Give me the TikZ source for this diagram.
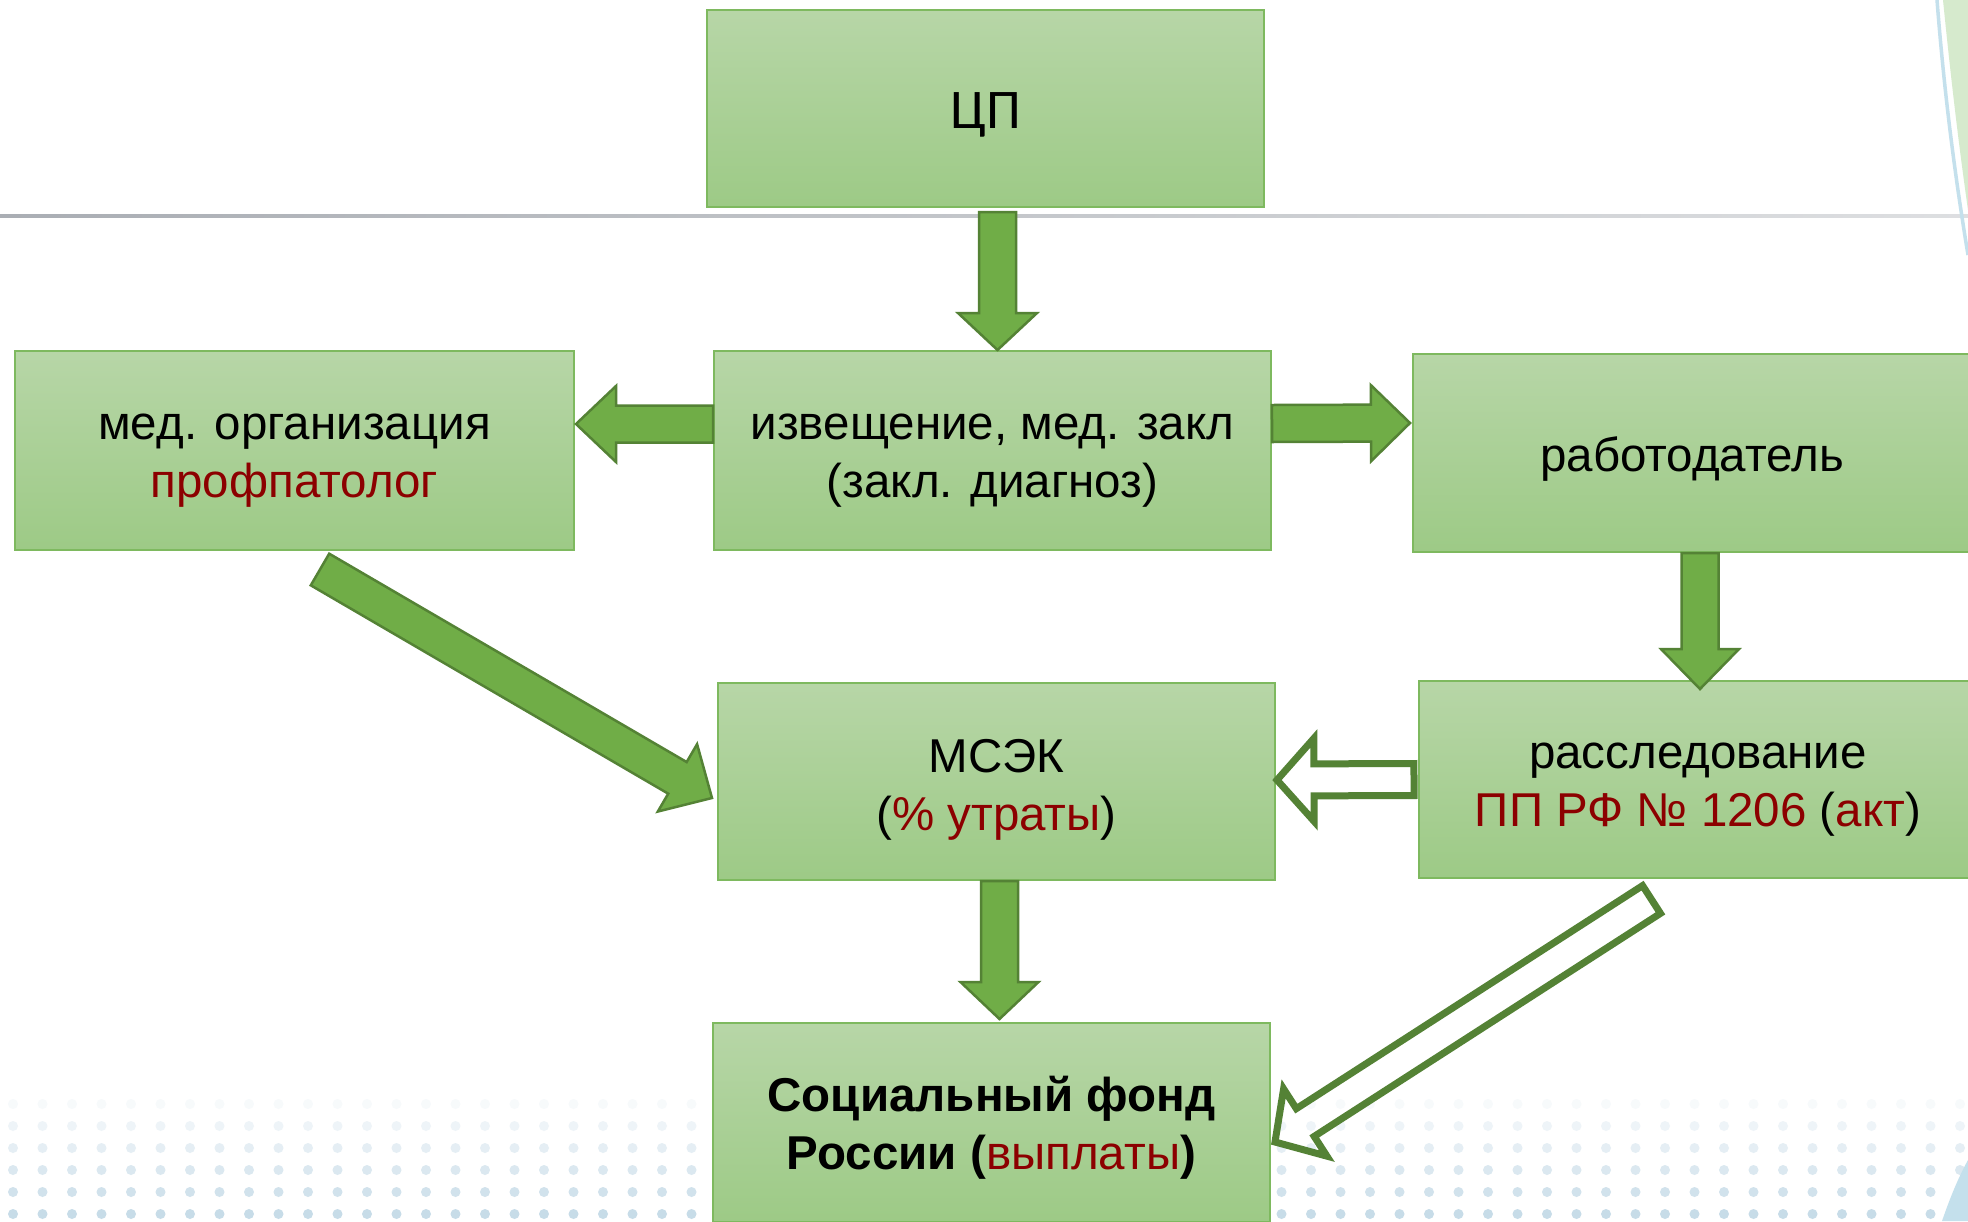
\documentclass[tikz,border=0pt]{standalone}
\usepackage{fontspec}
\setmainfont{Liberation Sans}
\newfontfamily\cpfont{Carlito}
\usetikzlibrary{calc}
\definecolor{boxtop}{RGB}{183,214,167}
\definecolor{boxbot}{RGB}{157,202,134}
\definecolor{boxedge}{RGB}{126,185,95}
\definecolor{arrfill}{RGB}{112,173,71}
\definecolor{arredge}{RGB}{84,130,53}
\definecolor{darkred}{RGB}{140,0,0}
\definecolor{dotcol}{RGB}{190,214,228}
\definecolor{decoblue}{RGB}{196,224,236}
\definecolor{decogreen}{RGB}{214,234,205}
\definecolor{linegray}{RGB}{170,174,180}
% #1 style, #2 start, #3 end, #4 half shaft, #5 half head, #6 head length
\newcommand\blockarrow[6]{%
  \path (#3) coordinate (bq) ($(#3)!#6!(#2)$) coordinate (ba);
  \draw[#1] ($(#2)!#4!90:(#3)$) -- ($(ba)!#4!90:(bq)$) -- ($(ba)!#5!90:(bq)$) -- (bq)
    -- ($(ba)!#5!-90:(bq)$) -- ($(ba)!#4!-90:(bq)$) -- ($(#2)!#4!-90:(#3)$) -- cycle;}
\begin{document}
\begin{tikzpicture}[x=1pt,y=-1pt,
  box/.style={draw=boxedge,line width=2pt,top color=boxtop,bottom color=boxbot,
    minimum width=557pt,minimum height=198pt,inner sep=0pt},
  boxtext/.style={align=center,inner sep=0pt,font=\fontsize{47.5}{58}\selectfont},
  filledarrow/.style={fill=arrfill,draw=arredge,line width=2.5pt,line join=miter},
  hollowarrow/.style={draw=arredge,line width=7pt,line join=miter}]
\useasboundingbox (0,0) rectangle (1968,1221);
\begin{scope}
\clip (0,0) rectangle (1968,1221);
\fill[white] (0,0) rectangle (1968,1221);
% background
\fill[left color=linegray, right color=linegray!40] (0,214) rectangle (1968,217.5);
\foreach \y/\o in {1104/0.12,1126/0.25,1148/0.4,1170/0.55,1192/0.7,1214/0.85}{
  \foreach \x in {13,42.5,...,1960}{
    \fill[dotcol,opacity=\o] (\x,\y) circle (5);
  }
}
\fill[decogreen] (1943,0) .. controls (1950,70) and (1958,140) .. (1968,210) -- (1968,0) -- cycle;
\draw[decoblue,line width=3.5pt] (1937,0) .. controls (1944,90) and (1954,170) .. (1968,255);
\fill[decoblue] (1942,1221) .. controls (1950,1198) and (1958,1178) .. (1968,1160) -- (1968,1221) -- cycle;
% boxes
\node[box,minimum height=197pt] (cp) at (985.5,108.5) {};
\node[box,minimum width=559pt,minimum height=199pt] (med) at (294.5,450.5) {};
\node[box,minimum height=199pt] (izv) at (992.5,450.5) {};
\node[box,minimum width=558pt] (rab) at (1692,453) {};
\node[box,minimum height=197pt] (msek) at (996.5,781.5) {};
\node[box,minimum width=558pt,minimum height=197pt] (rass) at (1698,779.5) {};
\node[box,minimum height=199pt] (sfr) at (991.5,1122.5) {};
% texts
\node[boxtext,font=\cpfont\fontsize{56}{60}\selectfont] (cpt) at ($(cp)+(0,6)$) {ЦП};
\node[boxtext] (medt) at ($(med)+(0,10)$) {мед. организация\\\textcolor{darkred}{профпатолог}};
\node[boxtext] (izvt) at ($(izv)+(0,10)$) {извещение, мед. закл\\(закл. диагноз)};
\node[boxtext] (rabt) at ($(rab)+(0,6)$) {работодатель};
\node[boxtext] (msekt) at ($(msek)+(0,8)$) {МСЭК\\(\textcolor{darkred}{\% утраты})};
\node[boxtext] (rasst) at ($(rass)+(0,10)$) {расследование\\\textcolor{darkred}{ПП РФ № 1206} (\textcolor{darkred}{акт})};
\node[boxtext] (sfrt) at ($(sfr)+(0,5)$) {\textbf{Социальный фонд}\\\textbf{России (}\textcolor{darkred}{выплаты}\textbf{)}};
% connector ends
\coordinate (a1s) at ($(cp.south)+(12,4)$);
\coordinate (a1e) at ($(izv.north)+(5,0)$);
\coordinate (a2s) at ($(izv.west)+(0,-26.5)$);
\coordinate (a2e) at ($(med.east)+(1,-26.5)$);
\coordinate (a3s) at ($(izv.east)+(0,-27)$);
\coordinate (a3e) at ($(rab.west)+(-2,-30)$);
\coordinate (a4s) at ($(rab.south)+(8,0)$);
\coordinate (a4e) at ($(rass.north)+(2,9)$);
\coordinate (a5s) at ($(msek.south)+(3,0)$);
\coordinate (a5e) at ($(sfr.north)+(8,-3)$);
\coordinate (a6s) at ($(med.south)+(25.5,18.5)$);
\coordinate (a6e) at ($(msek.west)+(-5,16.5)$);
\coordinate (a7s) at ($(rass.west)+(-4,0)$);
\coordinate (a7e) at ($(msek.east)+(1,-1.5)$);
\coordinate (a8s) at ($(rass.south)+(-46.5,20.5)$);
\coordinate (a8e) at ($(sfr.east)+(4,19.5)$);
% arrows
\blockarrow{filledarrow}{a1s}{a1e}{18.5pt}{39.5pt}{37pt}
\blockarrow{filledarrow}{a2s}{a2e}{18.5pt}{38pt}{40pt}
\blockarrow{filledarrow}{a3s}{a3e}{18.5pt}{38pt}{39pt}
\blockarrow{filledarrow}{a4s}{a4e}{18.5pt}{39pt}{40pt}
\blockarrow{filledarrow}{a5s}{a5e}{18.5pt}{39pt}{37pt}
\blockarrow{filledarrow}{a6s}{a6e}{18.3pt}{39pt}{40pt}
\blockarrow{hollowarrow}{a7s}{a7e}{16pt}{41.5pt}{37pt}
\blockarrow{hollowarrow}{a8s}{a8e}{16.5pt}{40pt}{36pt}
\end{scope}
\end{tikzpicture}
\end{document}
